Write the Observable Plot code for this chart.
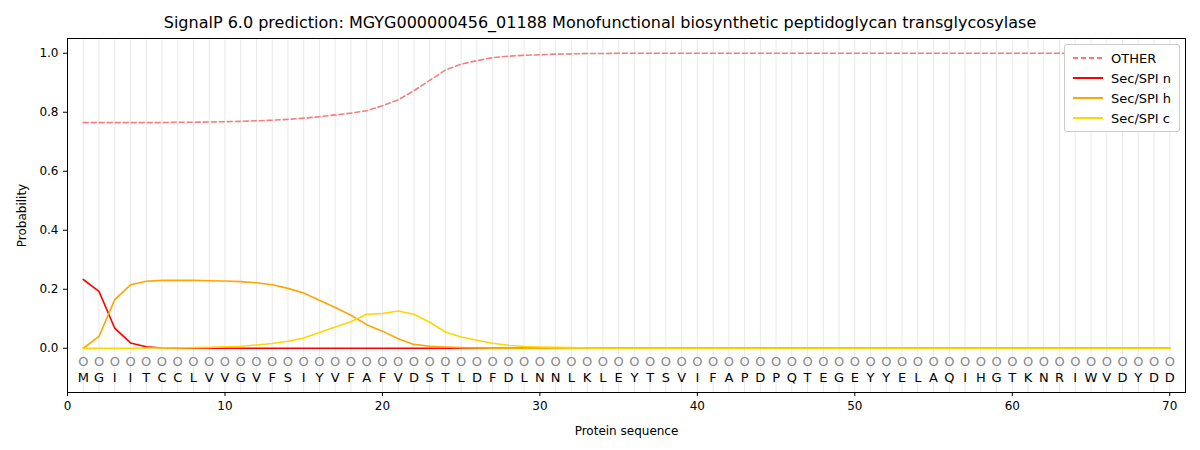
<!DOCTYPE html>
<html><head>
<script src="https://cdn.jsdelivr.net/npm/d3@7"></script>
<script src="https://cdn.jsdelivr.net/npm/@observablehq/plot@0.6"></script>
<style>
body{margin:0;background:#fff;font-family:"DejaVu Sans",sans-serif;}
#wrap{position:relative;width:1200px;height:450px;}
#title{height:38px;line-height:46px;text-align:center;font-size:16px;}
#legend{position:absolute;left:1064px;top:44px;background:#fff;border:1px solid #ccc;border-radius:3px;padding:3px 8px;font-size:13px;}
#legend div{display:flex;align-items:center;height:20px;}
#legend svg{margin-right:8px;}
</style></head><body>
<div id="wrap"><div id="title">SignalP 6.0 prediction: MGYG000000456_01188 Monofunctional biosynthetic peptidoglycan transglycosylase</div><div id="chart"></div>
<div id="legend"></div></div>
<script>
const sequence = "MGIITCCLVVGVFSIYVFAFVDSTLDFDLNNLKLEYTSVIFAPDPQTEGEYYELAQIHGTKNRIWVDYDD".split("");
const other = [0.765,0.765,0.765,0.765,0.765,0.765,0.766,0.766,0.767,0.768,0.769,0.771,0.773,0.776,0.78,0.785,0.791,0.797,0.805,0.822,0.842,0.873,0.908,0.943,0.963,0.975,0.985,0.99,0.993,0.995,0.997,0.998,0.999,0.999];
while (other.length<70) other.push(1.0);
const secN = [0.233,0.193,0.068,0.018,0.005,0.001];
while (secN.length<70) secN.push(0);
const secH = [0.0,0.04,0.165,0.215,0.227,0.23,0.23,0.23,0.229,0.228,0.226,0.222,0.215,0.203,0.187,0.163,0.138,0.112,0.08,0.058,0.032,0.013,0.007,0.004,0.002,0.001];
while (secH.length<70) secH.push(0);
const secC = [0,0,0,0,0.001,0.001,0.001,0.002,0.003,0.005,0.007,0.011,0.016,0.024,0.035,0.053,0.072,0.09,0.115,0.118,0.126,0.115,0.088,0.055,0.038,0.027,0.017,0.01,0.006,0.004,0.003,0.002,0.001];
while (secC.length<70) secC.push(0);

const series = [["OTHER",other,"#f08080","5,3"],["Sec/SPI n",secN,"#ff0000",null],["Sec/SPI h",secH,"#ffa500",null],["Sec/SPI c",secC,"#ffd700",null]];
const pos = sequence.map((a,i)=>({x:i+1,a}));
const marks = [
  Plot.ruleX(pos,{x:"x",stroke:"#e8e8e8",strokeWidth:1}),
  Plot.frame({stroke:"#000"}),
  Plot.text(pos,{x:"x",y:-0.047,text:()=>"O",fill:"#888",fontSize:13}),
  Plot.text(pos,{x:"x",y:-0.1,text:"a",fill:"#000",fontSize:13}),
];
for (const [name,vals,col,dash] of series) {
  marks.push(Plot.line(vals.map((v,i)=>({x:i+1,y:v})),{x:"x",y:"y",stroke:col,strokeWidth:1.6,strokeDasharray:dash}));
}
const chart = Plot.plot({
  width:1200,height:412,marginLeft:67,marginRight:15,marginTop:0,marginBottom:58,
  style:{fontFamily:"DejaVu Sans",fontSize:"12px",color:"#000"},
  x:{domain:[0,71],ticks:[0,10,20,30,40,50,60,70],label:"Protein sequence",labelAnchor:"center",labelArrow:"none",labelOffset:42,tickSize:4},
  y:{domain:[-0.15,1.05],ticks:[0,0.2,0.4,0.6,0.8,1.0],tickFormat:d3.format(".1f"),label:"Probability",labelAnchor:"center",labelArrow:"none",labelOffset:50,tickSize:4},
  marks
});
document.getElementById("chart").appendChild(chart);
const lg=document.getElementById("legend");
for (const [name,,col,dash] of series){
  lg.innerHTML+=`<div><svg width="30" height="10"><line x1="0" y1="5" x2="30" y2="5" stroke="${col}" stroke-width="2" ${dash?`stroke-dasharray="${dash}"`:""}/></svg>${name}</div>`;
}
</script></body></html>
